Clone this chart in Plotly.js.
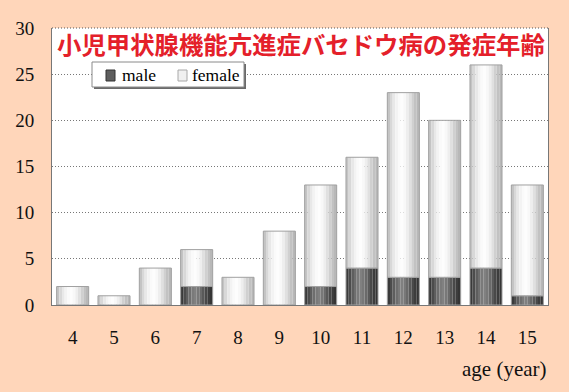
<!DOCTYPE html>
<html><head><meta charset="utf-8">
<script src="https://cdn.plot.ly/plotly-3.0.1.min.js"></script>
<style>html,body{margin:0;padding:0;background:#FFD6BA;}</style>
</head><body><div id="chart" style="width:569px;height:392px;"></div>
<script>
const ages = ['4','5','6','7','8','9','10','11','12','13','14','15'];
const male = [0,0,0,2,0,0,2,4,3,3,4,1];
const female = [2,1,4,4,3,8,11,12,20,17,22,12];
const seriesNames = ['male','female'];
const titleText = '小児甲状腺機能亢進症バセドウ病の発症年齢';
const xTitle = 'age (year)';

// plot area in pixels
const L = 52, R = 548, T = 28, B = 305;
const px = x => (x - L) / (R - L);
const py = y => (B - y) / (B - T);

const BW = 0.775, N = 12;
const femaleShades = ['#c4c4c4','#d8d8d8','#e8e8e8','#f3f3f3','#fafafa','#fdfdfd','#f8f8f8','#eeeeee','#e0e0e0','#d0d0d0','#c2c2c2','#b8b8b8'];
const maleShades = ['#3a3a3a','#4c4c4c','#5e5e5e','#6e6e6e','#7a7a7a','#808080','#787878','#6a6a6a','#595959','#494949','#3d3d3d','#353535'];
const traces = [];
function strips(vals, base, shades, name){
  for(let i=0;i<N;i++){
    traces.push({type:'bar', x:ages, y:vals, base:base, width:BW/N, offset:-BW/2+i*BW/N,
      marker:{color:shades[i], line:{width:0}}, name:name, showlegend:false, hoverinfo:'skip'});
  }
  traces.push({type:'bar', x:ages, y:vals, base:base, width:BW, offset:-BW/2,
    marker:{color:'rgba(0,0,0,0)', line:{width:1, color:'#a0a0a0'}}, name:name, showlegend:false, hoverinfo:'skip'});
}
strips(male, ages.map(()=>0), maleShades, seriesNames[0]);
strips(female, male, femaleShades, seriesNames[1]);

const shapes = [
  // legend shadow + box
  {type:'rect', xref:'paper', yref:'paper', x0:px(94), x1:px(246), y0:py(64), y1:py(89), fillcolor:'#6a6a6a', line:{width:0}},
  {type:'rect', xref:'paper', yref:'paper', x0:px(92), x1:px(244), y0:py(62), y1:py(87), fillcolor:'#ffffff', line:{width:1, color:'#8a8a8a'}},
  // legend swatches
  {type:'rect', xref:'paper', yref:'paper', x0:px(106), x1:px(115), y0:py(70), y1:py(81), fillcolor:'#5e5e5e', line:{width:1, color:'#333333'}},
  {type:'rect', xref:'paper', yref:'paper', x0:px(178), x1:px(187), y0:py(70), y1:py(81), fillcolor:'#f0f0f0', line:{width:1, color:'#a8a8a8'}},
  // dotted top frame
  {type:'line', xref:'paper', yref:'paper', x0:0, x1:1, y0:1, y1:1, line:{width:1, color:'#555', dash:'1px,2px'}}
];

const layout = {
  width:569, height:392,
  paper_bgcolor:'#FFD6BA', plot_bgcolor:'#ffffff',
  margin:{l:L, r:569-R, t:T, b:392-B},
  barmode:'overlay',
  showlegend:false,
  font:{family:'Liberation Serif', color:'#000'},
  xaxis:{type:'category', showgrid:false, showline:true, linecolor:'#777', linewidth:1, mirror:false,
    ticks:'', tickfont:{family:'Liberation Serif', size:19, color:'#111'}, ticklabelstandoff:15, fixedrange:true},
  yaxis:{range:[0,30], dtick:5, showgrid:true, gridcolor:'#777', griddash:'1px,2px', gridwidth:1,
    showline:true, linecolor:'#777', linewidth:1, mirror:true, zeroline:false,
    ticks:'', tickfont:{family:'Liberation Serif', size:19, color:'#111'}, ticklabelstandoff:13},
  shapes: shapes,
  annotations:[
    {text:titleText, xref:'paper', yref:'paper', x:px(300.5), y:py(43), xanchor:'center', yanchor:'middle', showarrow:false,
     font:{family:'Noto Sans CJK JP', size:24.4, color:'#e4202a', weight:'bold'}},
    {text:seriesNames[0], xref:'paper', yref:'paper', x:px(120), y:py(75), xanchor:'left', yanchor:'middle', showarrow:false,
     font:{family:'Liberation Serif', size:17.5, color:'#000'}},
    {text:seriesNames[1], xref:'paper', yref:'paper', x:px(190), y:py(75), xanchor:'left', yanchor:'middle', showarrow:false,
     font:{family:'Liberation Serif', size:17.5, color:'#000'}},
    {text:xTitle, xref:'paper', yref:'paper', x:px(549), y:py(369), xanchor:'right', yanchor:'middle', showarrow:false,
     font:{family:'Liberation Serif', size:21, color:'#111'}}
  ]
};
Plotly.newPlot('chart', traces, layout, {displayModeBar:false, staticPlot:true});
</script></body></html>
